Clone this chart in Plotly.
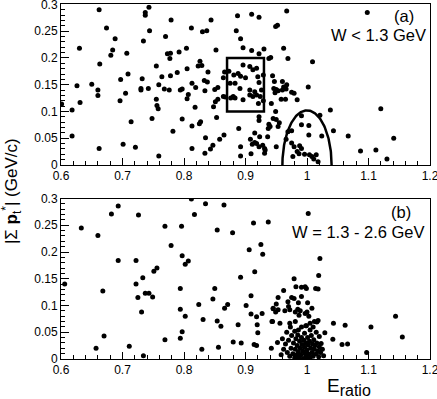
import numpy as np
import plotly.graph_objects as go

# ---------------- data: panel (a) W < 1.3 GeV ----------------
top_pts = [
    (0.662,0.290),(0.743,0.295),(0.737,0.285),(0.737,0.280),(0.674,0.256),(0.779,0.271),(0.744,0.251),
    (0.688,0.236),(0.734,0.232),(0.770,0.240),(0.630,0.218),(0.684,0.215),(0.681,0.205),(0.707,0.209),
    (0.773,0.208),(0.778,0.209),(0.777,0.199),(0.792,0.211),(0.663,0.189),(0.755,0.185),(0.789,0.173),
    (0.709,0.170),(0.697,0.160),(0.732,0.161),(0.764,0.165),(0.778,0.167),(0.626,0.148),(0.650,0.151),
    (0.660,0.140),(0.660,0.130),(0.705,0.134),(0.730,0.143),(0.730,0.140),(0.742,0.143),(0.759,0.150),
    (0.768,0.142),(0.776,0.140),(0.794,0.140),(0.797,0.142),(0.631,0.117),(0.618,0.103),(0.601,0.114),
    (0.696,0.120),(0.755,0.123),(0.756,0.111),(0.758,0.105),(0.714,0.081),(0.748,0.087),(0.797,0.086),
    (0.782,0.063),(0.618,0.054),(0.701,0.039),(0.721,0.033),(0.662,0.031),(0.759,0.017),
    (0.804,0.218),(0.812,0.256),(0.830,0.249),(0.837,0.251),(0.844,0.271),(0.852,0.215),(0.887,0.279),
    (0.910,0.282),(0.922,0.276),(0.967,0.288),(0.885,0.251),(0.892,0.236),(0.949,0.259),(0.952,0.261),
    (0.896,0.219),(0.910,0.214),(0.922,0.208),(0.930,0.217),(0.938,0.199),(0.941,0.201),(0.962,0.218),
    (0.969,0.199),(0.826,0.194),(0.823,0.185),(0.829,0.186),(0.805,0.180),(0.839,0.174),
    (0.807,0.132),(0.805,0.124),(0.813,0.153),(0.819,0.145),(0.833,0.158),(0.838,0.155),(0.834,0.139),
    (0.850,0.141),(0.855,0.145),(0.851,0.118),(0.855,0.123),(0.818,0.108),(0.853,0.089),(0.827,0.081),
    (0.825,0.077),(0.813,0.073),(0.889,0.068),(0.865,0.056),(0.858,0.048),(0.835,0.051),(0.847,0.037),
    (0.843,0.030),(0.813,0.031),(0.834,0.022),(0.892,0.034),(0.892,0.017),(0.915,0.060),(0.923,0.053),
    (0.909,0.021),(0.931,0.022),(0.866,0.174),(0.864,0.163),(0.864,0.128),(0.867,0.127),(0.848,0.109),
    (0.908,0.048),(0.911,0.039),(0.915,0.042),(0.918,0.040),(0.922,0.034),(0.928,0.037),(0.931,0.031),
    (0.932,0.028),
    # inside the box
    (0.881,0.168),(0.888,0.171),(0.892,0.166),(0.900,0.163),(0.907,0.184),(0.918,0.181),(0.912,0.178),
    (0.920,0.165),(0.875,0.153),(0.883,0.153),(0.922,0.154),(0.929,0.168),(0.907,0.140),(0.915,0.137),
    (0.918,0.131),(0.912,0.128),(0.907,0.131),(0.926,0.140),(0.924,0.128),(0.880,0.128),(0.883,0.125),
    (0.876,0.125),(0.896,0.122),(0.929,0.120),(0.921,0.115),(0.891,0.143),(0.873,0.175),(0.896,0.187),
    # right of the box
    (0.944,0.167),(0.947,0.156),(0.950,0.141),(0.953,0.139),(0.946,0.143),(0.948,0.135),(0.960,0.156),
    (0.962,0.146),(0.967,0.150),(0.960,0.140),(0.966,0.142),(0.975,0.136),(0.979,0.134),(0.942,0.115),
    (0.958,0.123),(0.965,0.123),(0.984,0.122),(0.949,0.100),(0.922,0.090),(0.922,0.083),(0.945,0.087),
    (0.950,0.085),(0.955,0.079),(0.953,0.072),(0.938,0.076),(0.940,0.072),(0.937,0.068),(0.936,0.053),
    (0.969,0.062),(0.975,0.064),(0.966,0.048),(0.975,0.041),(0.979,0.034),(0.984,0.025),(0.987,0.021),
    (0.977,0.016),(0.950,0.034),
    (1.098,0.285),(1.009,0.193),(1.002,0.146),(1.038,0.103),(1.120,0.105),(0.991,0.092),(1.021,0.093),
    (0.991,0.075),(1.003,0.074),(1.003,0.056),(1.043,0.064),(1.024,0.054),(1.067,0.054),(1.141,0.050),
    (0.988,0.036),(0.991,0.031),(0.996,0.020),(1.004,0.019),(1.008,0.016),(1.015,0.019),(1.011,0.011),
    (1.018,0.006),(1.087,0.026),(1.112,0.028),(1.130,0.011),
]

# ---------------- data: panel (b) W = 1.3 - 2.6 GeV ----------------
bot_pts = [
    (0.693,0.286),(0.682,0.271),(0.726,0.269),(0.633,0.245),(0.660,0.231),(0.769,0.248),(0.796,0.248),
    (0.779,0.212),(0.797,0.193),(0.693,0.184),(0.722,0.184),(0.756,0.170),(0.751,0.164),(0.733,0.152),
    (0.606,0.140),(0.722,0.140),(0.794,0.132),(0.668,0.127),(0.737,0.123),(0.743,0.123),(0.725,0.115),
    (0.749,0.116),(0.731,0.088),(0.794,0.093),(0.797,0.051),(0.670,0.043),(0.769,0.036),(0.794,0.039),
    (0.657,0.020),(0.711,0.024),(0.734,0.006),
    (0.812,0.299),(0.835,0.290),(0.865,0.288),(0.817,0.270),(0.913,0.254),(0.937,0.256),(0.854,0.241),
    (0.879,0.236),(0.925,0.214),(0.906,0.204),(0.928,0.196),(0.807,0.183),(0.802,0.177),(0.915,0.163),
    (0.892,0.153),(0.850,0.132),(0.909,0.118),(0.847,0.112),(0.824,0.102),(0.871,0.102),
    (0.866,0.095),(0.901,0.100),(0.945,0.094),(0.949,0.088),(0.802,0.080),(0.909,0.084),(0.918,0.079),
    (0.927,0.085),(0.831,0.074),(0.854,0.071),(0.860,0.061),(0.888,0.064),(0.919,0.064),(0.944,0.070),
    (0.920,0.049),(0.880,0.032),(0.893,0.030),(0.914,0.027),(0.918,0.025),(0.829,0.018),(0.856,0.022),
    (0.942,0.020),(0.952,0.031),
    (1.002,0.272),(1.021,0.188),(1.019,0.156),(0.979,0.150),(1.018,0.131),(1.008,0.095),(1.016,0.069),
    (1.043,0.067),(1.062,0.063),(1.104,0.060),(1.144,0.080),(1.155,0.041),(1.042,0.037),(1.057,0.027),
    (1.066,0.028),(1.097,0.012),(1.029,0.049),
    # upper part of the cluster
    (0.982,0.135),(0.991,0.134),(0.997,0.135),(0.999,0.132),(1.014,0.132),(0.962,0.128),(0.953,0.115),
    (0.975,0.115),(0.979,0.113),(0.991,0.117),(0.969,0.107),(0.986,0.105),(1.001,0.105),(0.970,0.098),
    (0.985,0.093),(0.981,0.088),(0.989,0.090),(0.950,0.103),(0.945,0.095),(0.953,0.092),(0.964,0.090),
    (0.972,0.092),(0.997,0.085),(1.003,0.080),(1.000,0.088),(0.987,0.082),(0.943,0.070),(0.956,0.067),
    (0.972,0.067),(0.981,0.070),(1.005,0.067),(1.012,0.070),(1.018,0.072),(0.991,0.060),(0.999,0.062),
    (0.986,0.054),(1.005,0.054),(1.010,0.060),
    # dense core of the cluster
    (0.965,0.028),(0.968,0.012),(0.970,0.035),(0.972,0.005),(0.974,0.020),(0.975,0.044),(0.977,0.010),
    (0.978,0.030),(0.980,0.002),(0.980,0.052),(0.981,0.018),(0.982,0.038),(0.983,0.008),(0.984,0.025),
    (0.985,0.045),(0.986,0.013),(0.987,0.003),(0.988,0.033),(0.989,0.020),(0.990,0.008),(0.991,0.040),
    (0.992,0.027),(0.993,0.015),(0.994,0.001),(0.995,0.035),(0.996,0.048),(0.996,0.022),(0.997,0.010),
    (0.998,0.030),(0.999,0.004),(1.000,0.017),(1.001,0.040),(1.002,0.026),(1.003,0.009),(1.004,0.033),
    (1.005,0.002),(1.006,0.020),(1.007,0.044),(1.008,0.012),(1.009,0.028),(1.010,0.005),(1.011,0.036),
    (1.012,0.018),(1.013,0.025),(1.015,0.010),(1.016,0.030),(1.018,0.015),(1.019,0.004),(1.020,0.023),
    (1.022,0.012),(1.023,0.029),(1.025,0.018),(1.027,0.006),(0.958,0.008),(0.962,0.018),(0.960,0.038),
    (0.967,0.050),(0.973,0.060),(0.998,0.062),(1.015,0.050),(1.020,0.042),
]

# selection regions (panel a)
box_x = [0.87, 0.93]
box_y = [0.10, 0.20]
ell_center = 1.0
ell_halfwidth = 0.04
ell_height = 0.102

x_ticks = [0.6, 0.7, 0.8, 0.9, 1.0, 1.1, 1.2]
x_labels = ["0.6", "0.7", "0.8", "0.9", "1", "1.1", "1.2"]
y_ticks = [0, 0.05, 0.1, 0.15, 0.2, 0.25, 0.3]
y_labels = ["0", "0.05", "0.1", "0.15", "0.2", "0.25", "0.3"]

FONT = "Liberation Sans, Arial, sans-serif"

fig = go.Figure()
tx, ty = zip(*top_pts)
bx, by = zip(*bot_pts)
mk = dict(color="black", size=5)
fig.add_trace(go.Scatter(x=tx, y=ty, mode="markers", marker=mk, xaxis="x", yaxis="y", showlegend=False))
fig.add_trace(go.Scatter(x=bx, y=by, mode="markers", marker=mk, xaxis="x2", yaxis="y2", showlegend=False))

t = np.linspace(0, np.pi, 120)
fig.add_trace(go.Scatter(x=ell_center + ell_halfwidth * np.cos(t), y=ell_height * np.sin(t),
                         mode="lines", line=dict(color="black", width=2.5),
                         xaxis="x", yaxis="y", showlegend=False, hoverinfo="skip"))
fig.add_shape(type="rect", xref="x", yref="y", x0=box_x[0], x1=box_x[1], y0=box_y[0], y1=box_y[1],
              line=dict(color="black", width=2.5))

def xa(anchor):
    return dict(range=[0.6, 1.2], tickvals=x_ticks, ticktext=x_labels,
                ticks="inside", ticklen=7, tickwidth=1, tickcolor="black",
                minor=dict(dtick=0.02, tick0=0.6, ticks="inside", ticklen=4, tickcolor="black"),
                showline=True, linecolor="black", linewidth=1, mirror=True, showgrid=False,
                zeroline=False, anchor=anchor, domain=[0, 1], automargin=False,
                ticklabeloverflow="allow",
                tickfont=dict(family=FONT, size=12, color="black"))

def ya(anchor, dom):
    return dict(range=[0, 0.3], tickvals=y_ticks, ticktext=y_labels,
                ticks="inside", ticklen=8, tickwidth=1, tickcolor="black",
                minor=dict(dtick=0.01, tick0=0, ticks="inside", ticklen=4, tickcolor="black"),
                showline=True, linecolor="black", linewidth=1, mirror=True, showgrid=False,
                zeroline=False, anchor=anchor, domain=dom, automargin=False,
                ticklabeloverflow="allow",
                tickfont=dict(family=FONT, size=12, color="black"))

fig.update_layout(
    width=437, height=399,
    margin=dict(l=61, r=7, t=4, b=40, autoexpand=False),
    plot_bgcolor="white", paper_bgcolor="white",
    xaxis=xa("y"), yaxis=ya("x", [0.5465, 0.9986]),
    xaxis2=xa("y2"), yaxis2=ya("x2", [0, 0.4521]),
    font=dict(family=FONT, color="black"),
)

ann_font = dict(family=FONT, size=16.5, color="black")
fig.add_annotation(x=1.178, y=0.279, xref="x", yref="y", text="(a)", showarrow=False,
                   xanchor="right", yanchor="middle", font=ann_font)
fig.add_annotation(x=1.197, y=0.243, xref="x", yref="y", text="W &lt; 1.3 GeV", showarrow=False,
                   xanchor="right", yanchor="middle", font=ann_font)
fig.add_annotation(x=1.172, y=0.274, xref="x2", yref="y2", text="(b)", showarrow=False,
                   xanchor="right", yanchor="middle", font=ann_font)
fig.add_annotation(x=1.195, y=0.2365, xref="x2", yref="y2", text="W = 1.3 - 2.6 GeV", showarrow=False,
                   xanchor="right", yanchor="middle", font=ann_font)

fig.add_annotation(x=0.716, y=-0.040, xref="paper", yref="paper",
                   text="E<sub><span style='font-size:16px'>ratio</span></sub>", showarrow=False,
                   xanchor="left", yanchor="top",
                   font=dict(family=FONT, size=19, color="black"))
fig.add_annotation(x=-0.1355, y=0.473, xref="paper", yref="paper",
                   text="|Σ <b>p</b><sub>t</sub><sup>*</sup>| (GeV/c)", showarrow=False, textangle=-90,
                   xanchor="center", yanchor="middle",
                   font=dict(family=FONT, size=17, color="black"))

fig.write_html("out.html", config={"displayModeBar": False},
               post_script="document.body.style.margin='0';")
